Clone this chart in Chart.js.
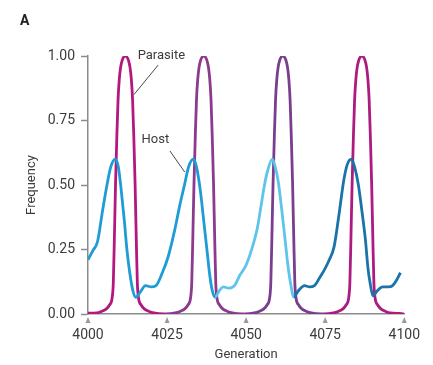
<!DOCTYPE html>
<html lang="en">
<head>
    <meta charset="UTF-8">
    <title>Host and Parasite Frequency</title>
    <script src="https://cdn.jsdelivr.net/npm/chart.js"></script>
    <style>
        body {
            margin: 0;
            padding: 0;
            background: #fff;
        }

        .container {
            width: 433px;
            height: 365px;
            position: relative;
        }
    </style>
</head>
<body>

    <div class="container">
        <canvas id="cycleChart"></canvas>
    </div>

    <script>
        // Values
        const hostGen = [
            4000, 4001.5, 4003, 4004.6, 4006, 4007.2, 4008.6, 4009.6, 4010.5, 4011.5,
            4012.3, 4013.2, 4014.2, 4015.1, 4016.5, 4018.2, 4020, 4021.5, 4023.5, 4025.3,
            4027.5, 4029, 4030.5, 4031.8, 4033.3, 4034.3, 4035.5, 4036.6, 4037.6, 4038.5,
            4039.3, 4040.2, 4041.5, 4042.8, 4044.5, 4046.3, 4048, 4050, 4052, 4053.5,
            4054.6, 4055.8, 4056.9, 4058.3, 4059.2, 4060.2, 4061.3, 4062.3, 4063.2, 4063.9,
            4065.1, 4066.5, 4068.5, 4070, 4071.6, 4073.2, 4074.7, 4076.3, 4077.8, 4079.3,
            4080.9, 4082, 4083.3, 4084.3, 4085.5, 4086.6, 4087.7, 4088.5, 4089.2, 4090.1,
            4091.5, 4093.2, 4095, 4096.3, 4097.5, 4098.8
        ];
        const hostFreq = [
            0.21, 0.245, 0.28, 0.40, 0.50, 0.57, 0.60, 0.57, 0.48, 0.36,
            0.25, 0.16, 0.09, 0.065, 0.085, 0.11, 0.105, 0.11, 0.16, 0.22,
            0.33, 0.42, 0.50, 0.57, 0.60, 0.57, 0.48, 0.36, 0.25, 0.15,
            0.09, 0.065, 0.09, 0.105, 0.10, 0.11, 0.15, 0.19, 0.26, 0.33,
            0.41, 0.50, 0.56, 0.60, 0.57, 0.51, 0.40, 0.29, 0.19, 0.13,
            0.066, 0.09, 0.11, 0.105, 0.11, 0.14, 0.17, 0.21, 0.26, 0.38,
            0.52, 0.58, 0.60, 0.57, 0.50, 0.40, 0.29, 0.18, 0.12, 0.07,
            0.09, 0.105, 0.105, 0.11, 0.13, 0.16
        ];

        const parasiteGen = [
            4000, 4002.8, 4004.3, 4005.8, 4006.8, 4007.6, 4008, 4008.35, 4008.7, 4009.1,
            4009.5, 4009.9, 4010.3, 4010.8, 4011.3, 4011.8, 4012.3, 4012.8, 4013.3, 4013.7,
            4014.1, 4014.5, 4014.9, 4015.25, 4015.6, 4016, 4016.8, 4017.8, 4019.3, 4020.8, 4023.8,
            4024.6, 4027.6, 4029.1, 4030.6, 4031.6, 4032.4, 4032.8, 4033.15, 4033.5, 4033.9,
            4034.3, 4034.7, 4035.1, 4035.6, 4036.1, 4036.6, 4037.1, 4037.6, 4038.1, 4038.5,
            4038.9, 4039.3, 4039.7, 4040.05, 4040.4, 4040.8, 4041.6, 4042.6, 4044.1, 4045.6, 4048.6,
            4049.6, 4052.6, 4054.1, 4055.6, 4056.6, 4057.4, 4057.8, 4058.15, 4058.5, 4058.9,
            4059.3, 4059.7, 4060.1, 4060.6, 4061.1, 4061.6, 4062.1, 4062.6, 4063.1, 4063.5,
            4063.9, 4064.3, 4064.7, 4065.05, 4065.4, 4065.8, 4066.6, 4067.6, 4069.1, 4070.6, 4073.6,
            4074.6, 4077.6, 4079.1, 4080.6, 4081.6, 4082.4, 4082.8, 4083.15, 4083.5, 4083.9,
            4084.3, 4084.7, 4085.1, 4085.6, 4086.1, 4086.6, 4087.1, 4087.6, 4088.1, 4088.5,
            4088.9, 4089.3, 4089.7, 4090.05, 4090.4, 4090.8, 4091.6, 4092.6, 4094.1, 4095.6, 4098.6,
            4100
        ];
        const parasiteFreq = [
            0.003, 0.004, 0.01, 0.02, 0.035, 0.06, 0.12, 0.3, 0.5, 0.68,
            0.83, 0.91, 0.955, 0.983, 0.996, 1.0, 0.996, 0.983, 0.955, 0.91,
            0.83, 0.68, 0.5, 0.3, 0.12, 0.06, 0.035, 0.02, 0.01, 0.004, 0.0,
            0.0, 0.004, 0.01, 0.02, 0.035, 0.06, 0.12, 0.3, 0.5, 0.68,
            0.83, 0.91, 0.955, 0.983, 0.996, 1.0, 0.996, 0.983, 0.955, 0.91,
            0.83, 0.68, 0.5, 0.3, 0.12, 0.06, 0.035, 0.02, 0.01, 0.004, 0.0,
            0.0, 0.004, 0.01, 0.02, 0.035, 0.06, 0.12, 0.3, 0.5, 0.68,
            0.83, 0.91, 0.955, 0.983, 0.996, 1.0, 0.996, 0.983, 0.955, 0.91,
            0.83, 0.68, 0.5, 0.3, 0.12, 0.06, 0.035, 0.02, 0.01, 0.004, 0.0,
            0.0, 0.004, 0.01, 0.02, 0.035, 0.06, 0.12, 0.3, 0.5, 0.68,
            0.83, 0.91, 0.955, 0.983, 0.996, 1.0, 0.996, 0.983, 0.955, 0.91,
            0.83, 0.68, 0.5, 0.3, 0.12, 0.06, 0.035, 0.02, 0.01, 0.004, 0.002,
            0.0
        ];

        const xTicks = [4000, 4025, 4050, 4075, 4100];
        const yTicks = [0, 0.25, 0.5, 0.75, 1.0];

        // colour changes along each line (by generation)
        const hostBreaks = [4040.2, 4065.1];
        const hostColors = ['#1e9cd3', '#5ec4ea', '#1a73aa'];
        const parasiteBreaks = [4024.2, 4049.2, 4074.2];
        const parasiteColors = ['#b3187f', '#8b3a8e', '#7a3d8f', '#ad1b80'];

        function pickColor(x, breaks, colors) {
            let i = 0;
            while (i < breaks.length && x >= breaks[i]) i++;
            return colors[i];
        }

        const textColor = '#3c3c3c';
        const axisColor = '#8c8c8c';

        // labels with leader lines, placed in data units
        const callouts = [
            { text: 'Parasite', x: 4023.2, y: 1.0, from: [4022.2, 0.965], to: [4014.5, 0.85] },
            { text: 'Host', x: 4021.3, y: 0.674, from: [4025.9, 0.632], to: [4030.6, 0.55] }
        ];

        const extras = {
            id: 'extras',
            beforeDraw(chart) {
                const c = chart.ctx;
                c.save();
                c.fillStyle = '#fff';
                c.fillRect(0, 0, chart.width, chart.height);
                c.restore();
            },
            afterDraw(chart) {
                const c = chart.ctx;
                const xs = chart.scales.x;
                const ys = chart.scales.y;
                c.save();

                // little triangles under the x axis
                c.fillStyle = '#9a9a9a';
                xTicks.forEach(t => {
                    const px = xs.getPixelForValue(t);
                    c.beginPath();
                    c.moveTo(px, ys.bottom + 3);
                    c.lineTo(px - 2.5, ys.bottom + 9);
                    c.lineTo(px + 2.5, ys.bottom + 9);
                    c.closePath();
                    c.fill();
                });

                // callouts
                c.font = '13px Roboto';
                c.textAlign = 'center';
                c.textBaseline = 'middle';
                callouts.forEach(a => {
                    c.fillStyle = textColor;
                    c.fillText(a.text, xs.getPixelForValue(a.x), ys.getPixelForValue(a.y));
                    c.strokeStyle = '#4a4a4a';
                    c.lineWidth = 1;
                    c.beginPath();
                    c.moveTo(xs.getPixelForValue(a.from[0]), ys.getPixelForValue(a.from[1]));
                    c.lineTo(xs.getPixelForValue(a.to[0]), ys.getPixelForValue(a.to[1]));
                    c.stroke();
                });

                // panel letter
                c.font = 'bold 14px Roboto';
                c.fillStyle = '#222';
                c.textAlign = 'left';
                c.fillText('A', 20, 21);
                c.restore();
            }
        };

        const ctx = document.getElementById('cycleChart').getContext('2d');

        const cycleChart = new Chart(ctx, {
            type: 'line',
            data: {
                datasets: [
                    {
                        label: 'Host',
                        data: hostGen.map((g, i) => ({ x: g, y: hostFreq[i] })),
                        borderColor: hostColors[0],
                        borderWidth: 2.8,
                        pointRadius: 0,
                        cubicInterpolationMode: 'monotone',
                        segment: {
                            borderColor: s => pickColor(s.p0.parsed.x, hostBreaks, hostColors)
                        },
                        order: 0
                    },
                    {
                        label: 'Parasite',
                        data: parasiteGen.map((g, i) => ({ x: g, y: parasiteFreq[i] })),
                        borderColor: parasiteColors[0],
                        borderWidth: 2.8,
                        pointRadius: 0,
                        cubicInterpolationMode: 'monotone',
                        segment: {
                            borderColor: s => pickColor(s.p0.parsed.x, parasiteBreaks, parasiteColors)
                        },
                        order: 1
                    }
                ]
            },
            options: {
                responsive: true,
                maintainAspectRatio: false,
                animation: false,
                layout: {
                    padding: { left: 0, right: 21, top: 56, bottom: 0 }
                },
                plugins: {
                    legend: { display: false },
                    tooltip: { enabled: false }
                },
                scales: {
                    x: {
                        type: 'linear',
                        min: 4000,
                        max: 4100,
                        afterFit: s => { s.height = 51; },
                        afterBuildTicks: s => { s.ticks = xTicks.map(v => ({ value: v })); },
                        ticks: {
                            padding: 13,
                            color: textColor,
                            font: { family: 'Roboto', size: 14 },
                            maxRotation: 0,
                            callback: v => String(v)
                        },
                        grid: { display: false, drawTicks: false },
                        border: { display: true, color: axisColor, width: 1.5 },
                        title: {
                            display: true,
                            text: 'Generation',
                            color: textColor,
                            font: { family: 'Roboto', size: 13 },
                            padding: { top: 0, bottom: 2 }
                        }
                    },
                    y: {
                        min: 0,
                        max: 1,
                        afterFit: s => { s.width = 88; },
                        afterBuildTicks: s => { s.ticks = yTicks.map(v => ({ value: v })); },
                        ticks: {
                            padding: 6,
                            color: textColor,
                            font: { family: 'Roboto', size: 14 },
                            callback: v => v.toFixed(2)
                        },
                        grid: {
                            drawOnChartArea: false,
                            drawTicks: true,
                            tickLength: 7,
                            tickColor: axisColor,
                            tickWidth: 1.5
                        },
                        border: { display: true, color: axisColor, width: 1.5 },
                        title: {
                            display: true,
                            text: 'Frequency',
                            color: textColor,
                            font: { family: 'Roboto', size: 13 },
                            padding: { top: 24, bottom: 0 }
                        }
                    }
                }
            },
            plugins: [extras]
        });
    </script>

</body>
</html>
